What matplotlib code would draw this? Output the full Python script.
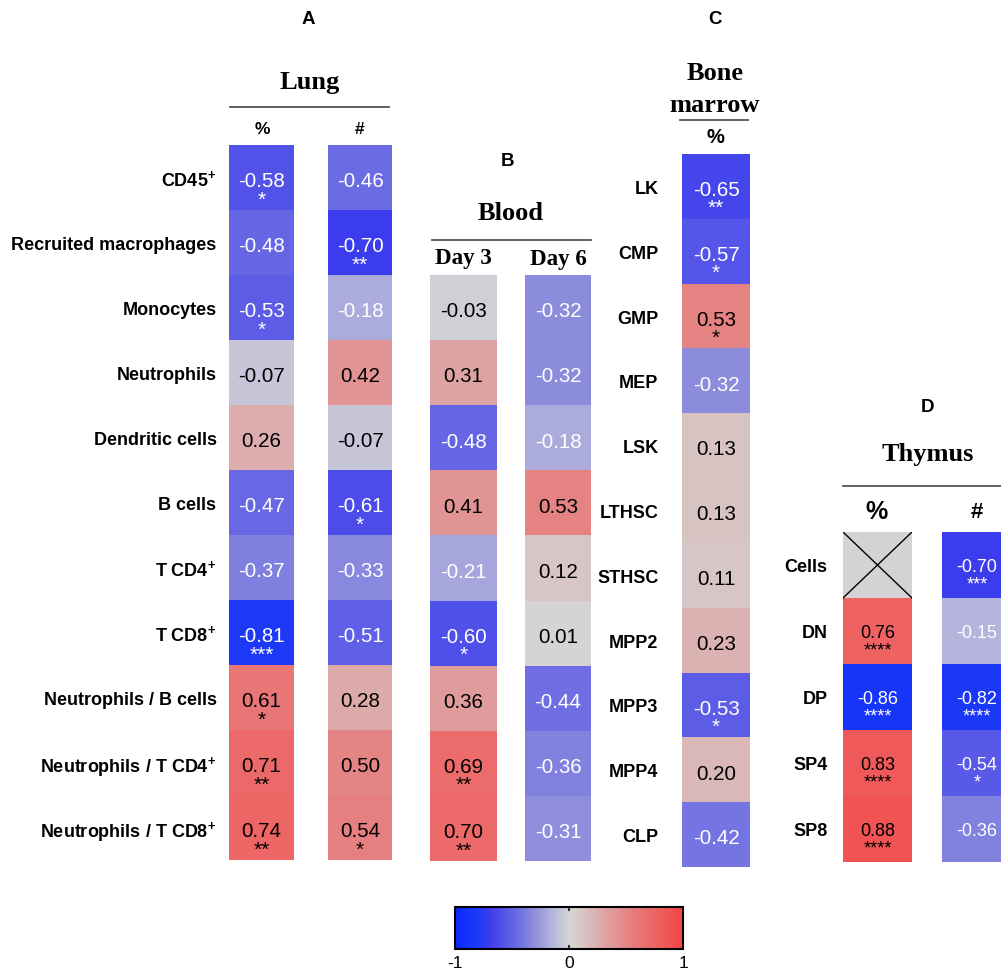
import numpy as np
import matplotlib
matplotlib.use("Agg")
import matplotlib.pyplot as plt
from matplotlib.colors import LinearSegmentedColormap
from matplotlib.lines import Line2D
import matplotlib.cm as cm

plt.rcParams['font.family'] = ['Liberation Sans', 'DejaVu Sans']
plt.rcParams['mathtext.fontset'] = 'custom'
plt.rcParams['mathtext.rm'] = 'Liberation Sans'
plt.rcParams['mathtext.bf'] = 'Liberation Sans:bold'

# ---- data (Spearman r, significance) ----
lung_rows = ["CD45$^{\\mathbf{+}}$", "Recruited macrophages", "Monocytes", "Neutrophils",
             "Dendritic cells", "B cells", "T CD4$^{\\mathbf{+}}$", "T CD8$^{\\mathbf{+}}$",
             "Neutrophils / B cells", "Neutrophils / T CD4$^{\\mathbf{+}}$",
             "Neutrophils / T CD8$^{\\mathbf{+}}$"]
lung_pct = [-0.58, -0.48, -0.53, -0.07, 0.26, -0.47, -0.37, -0.81, 0.61, 0.71, 0.74]
lung_pct_sig = ["*", "", "*", "", "", "", "", "***", "*", "**", "**"]
lung_num = [-0.46, -0.70, -0.18, 0.42, -0.07, -0.61, -0.33, -0.51, 0.28, 0.50, 0.54]
lung_num_sig = ["", "**", "", "", "", "*", "", "", "", "", "*"]

blood_day3 = [-0.03, 0.31, -0.48, 0.41, -0.21, -0.60, 0.36, 0.69, 0.70]
blood_day3_sig = ["", "", "", "", "", "*", "", "**", "**"]
blood_day6 = [-0.32, -0.32, -0.18, 0.53, 0.12, 0.01, -0.44, -0.36, -0.31]
blood_day6_sig = [""] * 9

bm_rows = ["LK", "CMP", "GMP", "MEP", "LSK", "LTHSC", "STHSC", "MPP2", "MPP3", "MPP4", "CLP"]
bm_pct = [-0.65, -0.57, 0.53, -0.32, 0.13, 0.13, 0.11, 0.23, -0.53, 0.20, -0.42]
bm_pct_sig = ["**", "*", "*", "", "", "", "", "", "*", "", ""]

thy_rows = ["Cells", "DN", "DP", "SP4", "SP8"]
thy_pct = [np.nan, 0.76, -0.86, 0.83, 0.88]
thy_pct_sig = ["", "****", "****", "****", "****"]
thy_num = [-0.70, -0.15, -0.82, -0.54, -0.36]
thy_num_sig = ["***", "", "****", "*", ""]

cmap = LinearSegmentedColormap.from_list("bgr", [
    (0.00, "#0a28ff"), (0.10, "#1e3af6"), (0.15, "#3c3cee"), (0.25, "#6262e6"),
    (0.35, "#9090dc"), (0.42, "#b2b2dc"), (0.50, "#d5d5d5"), (0.57, "#d8c2c2"),
    (0.65, "#dea6a6"), (0.75, "#e48686"), (0.85, "#ec6a6a"), (1.00, "#f44444")])

W, H = 1001, 970
fig = plt.figure(figsize=(W / 100, H / 100), dpi=100)


def frect(x0, y0, x1, y1):
    return [x0 / W, 1 - y1 / H, (x1 - x0) / W, (y1 - y0) / H]


def ftext(x, y, s, **kw):
    kw.setdefault('ha', 'center')
    kw.setdefault('va', 'center')
    fig.text(x / W, 1 - y / H, s, **kw)


def hline(x0, x1, y):
    fig.add_artist(Line2D([x0 / W, x1 / W], [1 - y / H, 1 - y / H],
                          color="#555555", lw=1.3))


def column(px, vals, sigs, labels=None, pad=9, fs=14.8, sfs=15, voff=0.05, soff=0.33):
    ax = fig.add_axes(frect(*px))
    data = np.ma.masked_invalid(np.array(vals, dtype=float).reshape(-1, 1))
    ax.set_facecolor("#d3d3d3")
    ax.pcolormesh(data, cmap=cmap, vmin=-1, vmax=1)
    n = len(vals)
    ax.set_xlim(0, 1)
    ax.set_ylim(n, 0)
    for i, (v, s) in enumerate(zip(vals, sigs)):
        if np.isnan(v):
            ax.plot([0, 1], [i, i + 1], color="black", lw=1)
            ax.plot([0, 1], [i + 1, i], color="black", lw=1)
            continue
        c = "white" if v <= -0.1 else "black"
        ax.text(0.5, i + 0.5 + voff, f"{v:.2f}", ha="center", va="center", fontsize=fs, color=c)
        if s:
            ax.text(0.5, i + 0.5 + soff, s, ha="center", va="center", fontsize=sfs, color=c)
    ax.set_xticks([])
    if labels:
        ax.set_yticks(np.arange(n) + 0.5, labels, fontsize=13, fontweight="bold")
        ax.tick_params(axis="y", length=0, pad=pad)
    else:
        ax.set_yticks([])
    for sp in ax.spines.values():
        sp.set_visible(False)
    return ax


# ---- A: lung ----
column((229, 146, 294, 861), lung_pct, lung_pct_sig, labels=lung_rows, pad=9)
column((328, 146, 392, 861), lung_num, lung_num_sig)
ftext(308, 20, "A", fontsize=13.5, fontweight="bold")
ftext(310, 82, "Lung", fontsize=19, fontweight="bold", family="Liberation Serif")
hline(230, 389, 108)
ftext(262, 129, "%", fontsize=12.5, fontweight="bold")
ftext(360, 129, "#", fontsize=12.5, fontweight="bold")

# ---- B: blood ----
column((430, 276, 497, 862), blood_day3, blood_day3_sig)
column((525, 276, 591, 862), blood_day6, blood_day6_sig)
ftext(508, 161, "B", fontsize=13.5, fontweight="bold")
ftext(511, 214, "Blood", fontsize=19, fontweight="bold", family="Liberation Serif")
hline(432, 591, 241)
ftext(463, 259, "Day 3", fontsize=16.5, fontweight="bold", family="Liberation Serif")
ftext(558, 260, "Day 6", fontsize=16.5, fontweight="bold", family="Liberation Serif")

# ---- C: bone marrow ----
column((682, 155, 750, 868), bm_pct, bm_pct_sig, labels=bm_rows, pad=17)
ftext(715, 20, "C", fontsize=13.5, fontweight="bold")
ftext(715, 74, "Bone", fontsize=19, fontweight="bold", family="Liberation Serif")
ftext(714, 106, "marrow", fontsize=19, fontweight="bold", family="Liberation Serif")
hline(680, 748, 121)
ftext(715, 138, "%", fontsize=14.5, fontweight="bold")

# ---- D: thymus ----
column((843, 533, 912, 863), thy_pct, thy_pct_sig, labels=thy_rows, pad=11,
       fs=13, sfs=13, voff=0.03, soff=0.29)
column((942, 533, 1012, 863), thy_num, thy_num_sig, fs=13, sfs=13, voff=0.03, soff=0.29)
ftext(928, 407, "D", fontsize=13.5, fontweight="bold")
ftext(928, 455, "Thymus", fontsize=19, fontweight="bold", family="Liberation Serif")
hline(843, 1001, 487)
ftext(877, 512, "%", fontsize=18, fontweight="bold")
ftext(977, 512, "#", fontsize=16, fontweight="bold")

# ---- colour bar ----
cax = fig.add_axes(frect(455, 908, 683, 950))
cb = fig.colorbar(cm.ScalarMappable(cmap=cmap, norm=plt.Normalize(-1, 1)),
                  cax=cax, orientation="horizontal", ticks=[-1, 0, 1])
cb.outline.set_linewidth(1.5)
cb.ax.tick_params(length=0, labelsize=12.5, pad=4)
cb.ax.set_xticklabels(["-1", "0", "1"])
cax.axvline(0, ymin=0, ymax=0.08, color="#333333", lw=1.5)
cax.axvline(0, ymin=0.92, ymax=1, color="#333333", lw=1.5)

fig.savefig("out.png", dpi=100)
